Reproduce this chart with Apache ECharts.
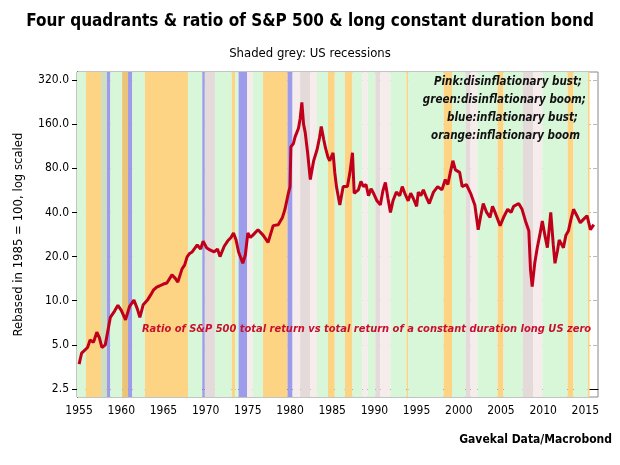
<!DOCTYPE html>
<html>
<head>
<meta charset="utf-8">
<script src="https://cdn.jsdelivr.net/npm/echarts@6/dist/echarts.min.js"></script>
<style>html,body{margin:0;padding:0;background:#fff}#main{width:620px;height:465px}</style>
</head>
<body>
<div id="main"></div>
<script>
// ratio, rebased 1985 = 100 (log scale)
var years = [1955.0,1955.3,1955.5,1956.0,1956.3,1956.7,1957.1,1957.4,1957.7,1958.1,1958.4,1958.7,1959.2,1959.6,1960.0,1960.5,1961.0,1961.5,1961.9,1962.2,1962.6,1963.1,1963.5,1963.8,1964.2,1964.5,1965.0,1965.4,1966.0,1966.4,1966.7,1967.2,1967.5,1967.8,1968.1,1968.4,1969.0,1969.4,1969.7,1970.1,1970.5,1971.0,1971.4,1971.7,1972.2,1972.6,1973.0,1973.3,1973.6,1973.9,1974.4,1974.7,1975.0,1975.3,1975.6,1976.2,1976.8,1977.4,1978.0,1978.6,1979.1,1979.4,1979.8,1980.0,1980.1,1980.4,1980.6,1981.0,1981.2,1981.4,1981.6,1981.8,1982.1,1982.4,1982.6,1982.8,1983.2,1983.5,1983.7,1984.0,1984.2,1984.5,1984.7,1985.1,1985.3,1985.5,1985.9,1986.3,1986.8,1987.1,1987.4,1987.6,1988.1,1988.4,1988.7,1989.0,1989.3,1989.6,1989.9,1990.3,1990.7,1991.0,1991.3,1991.6,1991.9,1992.2,1992.6,1993.0,1993.3,1993.6,1994.0,1994.3,1994.6,1995.0,1995.2,1995.5,1995.8,1996.2,1996.5,1997.0,1997.5,1998.0,1998.4,1998.7,1999.0,1999.3,1999.6,1999.8,2000.1,2000.4,2000.9,2001.4,2001.9,2002.3,2002.6,2002.9,2003.3,2003.7,2004.0,2004.3,2004.9,2005.4,2005.8,2006.2,2006.5,2007.1,2007.5,2007.9,2008.3,2008.5,2008.7,2009.0,2009.3,2009.6,2009.9,2010.2,2010.5,2010.9,2011.2,2011.4,2011.7,2011.9,2012.4,2012.7,2013.0,2013.3,2013.6,2014.0,2014.4,2014.8,2015.2,2015.6,2016.0];
var ratio = [3.7,4.4,4.5,4.8,5.4,5.2,6.1,5.6,4.8,5.0,6.2,7.7,8.5,9.3,8.6,7.4,9.2,10.1,8.8,7.7,9.4,10.1,11.0,11.8,12.4,12.6,13.0,13.2,15.0,14.2,13.4,16.5,17.5,19.9,21.0,21.5,24.0,22.5,25.5,23.0,22.2,21.5,22.5,20.0,23.5,25.5,27.0,29.0,26.0,21.5,18.0,20.5,29.0,27.0,28.0,30.5,28.0,25.0,32.5,33.0,37.0,42.0,54.0,60.0,112.0,118.0,131.0,150.0,175.0,225.0,160.0,140.0,100.0,67.0,78.0,90.0,107.0,130.0,154.0,125.0,110.0,95.0,90.0,102.0,75.0,60.0,45.0,60.0,60.0,75.0,102.0,54.0,57.0,65.0,60.0,62.0,52.0,58.0,54.0,48.0,45.0,56.0,64.0,50.0,40.0,48.0,55.0,52.0,60.0,54.0,48.0,54.0,50.0,44.0,55.0,52.0,57.0,50.0,46.0,55.0,60.0,57.0,67.0,62.0,75.0,90.0,78.0,80.0,75.0,60.0,62.0,54.0,45.0,30.5,38.0,46.0,40.0,37.0,44.0,40.0,32.5,38.0,42.0,40.0,44.0,46.0,42.0,35.0,30.0,16.3,12.5,18.0,23.0,28.0,35.0,28.0,23.0,40.0,24.0,18.0,22.0,26.0,23.0,28.0,30.0,36.0,42.0,38.0,34.0,36.0,38.0,30.5,33.0];
// regime bands: [start, end, type]  o=orange g=green b=blue p=pink r=recession
var bands = [
  [1954.7,1955.8,'g'],[1955.8,1957.6,'o'],[1957.6,1958.3,'rg'],[1958.3,1958.7,'b'],[1958.7,1960.1,'g'],
  [1960.1,1960.8,'ro'],[1960.8,1961.3,'b'],[1961.3,1962.8,'g'],[1962.8,1967.9,'o'],[1967.9,1969.6,'g'],
  [1969.6,1969.9,'b'],[1969.9,1971.1,'r'],[1971.1,1973.1,'g'],[1973.1,1973.5,'o'],[1973.5,1973.9,'g'],
  [1973.9,1974.9,'b'],[1974.9,1975.6,'p'],[1975.6,1976.8,'g'],[1976.8,1979.7,'o'],[1979.7,1980.3,'b'],
  [1980.3,1981.2,'p'],[1981.2,1982.4,'r'],[1982.4,1983.2,'p'],[1983.2,1984.5,'g'],[1984.5,1985.3,'o'],
  [1985.3,1986.5,'g'],[1986.5,1987.4,'o'],[1987.4,1988.6,'g'],[1988.6,1989.2,'p'],[1989.2,1990.1,'g'],
  [1990.1,1990.7,'r'],[1990.7,1991.9,'p'],[1991.9,1993.8,'g'],[1993.8,1994.0,'o'],[1994.0,1998.2,'g'],
  [1998.2,1999.2,'o'],[1999.2,2000.8,'g'],[2000.8,2001.4,'r'],[2001.4,2002.2,'p'],[2002.2,2004.6,'g'],
  [2004.6,2005.3,'o'],[2005.3,2007.6,'g'],[2007.6,2008.8,'r'],[2008.8,2009.9,'p'],[2009.9,2012.9,'g'],
  [2012.9,2013.6,'o'],[2013.6,2015.3,'g'],[2015.3,2015.5,'o']
];
var bandColors = {o:'#FDD384', g:'#D8F6D8', b:'#9C9CEA', p:'#F7ECEC', r:'#E4DADA', rg:'#CFDDC0', ro:'#EBC478'};
var yTicks = [2.5,5,10,20,40,80,160,320];
var xTicks = [1955,1960,1965,1970,1975,1980,1985,1990,1995,2000,2005,2010,2015];
var legendLines = ['Pink:disinflationary bust;','green:disinflationary boom;','blue:inflationary bust;','orange:inflationary boom'];

function lg(v){ return Math.log(v/2.5)/Math.LN2; }
var lineData = years.map(function(y,i){ return [y, lg(ratio[i])]; });
var areas = bands.map(function(b){ return [{xAxis:b[0], itemStyle:{color:bandColors[b[2]]}},{xAxis:b[1]}]; });
var FONT = '"DejaVu Sans Condensed","Liberation Sans Narrow",sans-serif';

var graphics = legendLines.map(function(t,i){
  return {type:'text', right:[38,34,42,40][i], top:76+i*18, z:10,
    style:{text:t, font:'italic bold 11.5px '+FONT, fill:'#111'}};
});
graphics.push({type:'text', left:142, top:324, z:10, style:{text:'Ratio of S&P 500 total return vs total return of a constant duration long US zero', font:'italic bold 11px '+FONT, fill:'#C8102E'}});
graphics.push({type:'text', right:8, top:434, style:{text:'Gavekal Data/Macrobond', font:'bold 12px '+FONT, fill:'#000'}});

var chart = echarts.init(document.getElementById('main'));
chart.setOption({
  animation:false,
  textStyle:{fontFamily:FONT},
  title:[
    {text:'Four quadrants & ratio of S&P 500 & long constant duration bond', left:'center', top:8,
     textStyle:{fontSize:17, fontWeight:'bold', color:'#000', fontFamily:FONT}},
    {text:'Shaded grey: US recessions', left:'center', top:42, textStyle:{fontSize:13, fontWeight:'normal', color:'#000', fontFamily:FONT}}
  ],
  graphic:graphics,
  grid:{left:77, right:22, top:72, bottom:68, show:true, borderColor:'#888', borderWidth:1},
  xAxis:{type:'value', min:1954.75, max:2016.5,
    axisLine:{lineStyle:{color:'#000'}}, axisTick:{customValues:xTicks, lineStyle:{color:'#000'}},
    axisLabel:{customValues:xTicks, color:'#000', fontSize:12, fontFamily:FONT, formatter:function(v){ return String(v); }},
    splitLine:{show:true, lineStyle:{type:'dashed', color:'#bbb'}}},
  yAxis:{type:'value', min:-0.18, max:7.18,
    name:'Rebased in 1985 = 100, log scaled', nameLocation:'middle', nameGap:52,
    nameTextStyle:{fontSize:13, color:'#000', fontFamily:FONT},
    axisLine:{show:true, lineStyle:{color:'#000'}},
    axisTick:{show:true, customValues:yTicks.map(lg), lineStyle:{color:'#000'}},
    axisLabel:{customValues:yTicks.map(lg), color:'#000', fontSize:12, fontFamily:FONT,
      formatter:function(v){ return (2.5*Math.pow(2, Math.round(v))).toFixed(1); }},
    splitLine:{show:true, lineStyle:{type:'dashed', color:'#bbb'}}},
  series:[{type:'line', data:lineData, showSymbol:false, z:5,
    lineStyle:{color:'#C0001A', width:3}, itemStyle:{color:'#C0001A'},
    markArea:{silent:true, data:areas}}]
});
</script>
</body>
</html>
